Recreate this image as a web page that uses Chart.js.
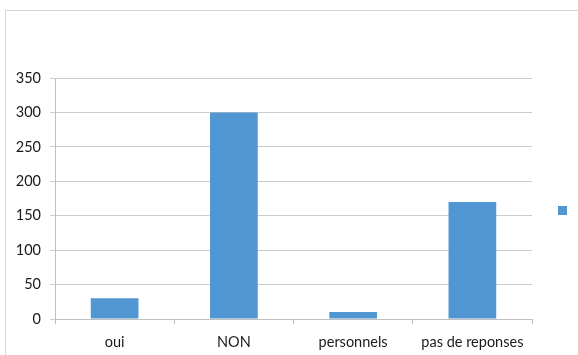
<!DOCTYPE html>
<html>
<head>
<meta charset="utf-8">
<script src="https://cdn.jsdelivr.net/npm/chart.js@4"></script>
<style>
html,body{margin:0;padding:0;background:#fff;}
#wrap{position:relative;width:578px;height:355px;overflow:hidden;}
#frame{position:absolute;left:5px;top:10px;width:620px;height:400px;border:1px solid #d6d6d6;box-sizing:border-box;}
#c{position:absolute;left:0;top:0;}
</style>
</head>
<body>
<div id="wrap">
<div id="frame"></div>
<canvas id="c" width="578" height="355"></canvas>
</div>
<script>
const categories = ["oui", "NON", "personnels", "pas de reponses"];
const values = [30, 300, 10, 170];
const seriesName = "";
const yTicks = [0, 50, 100, 150, 200, 250, 300, 350];

const barColor = "#4F96D2";
const fontFamily = "Lato, 'Open Sans', sans-serif";

new Chart(document.getElementById("c"), {
  type: "bar",
  data: {
    labels: categories,
    datasets: [{
      label: seriesName,
      data: values,
      backgroundColor: barColor,
      borderWidth: 0,
      barPercentage: 0.4,
      categoryPercentage: 1.0
    }]
  },
  options: {
    responsive: false,
    animation: false,
    devicePixelRatio: 1,
    layout: { padding: { top: 78, bottom: 0, left: 0, right: 0 } },
    plugins: {
      tooltip: { enabled: false },
      title: { display: false },
      legend: {
        display: true,
        position: "right",
        align: "center",
        fullSize: false,
        title: { display: true, text: "", font: { size: 2 }, padding: { top: 0, bottom: 21.6 } },
        labels: {
          boxWidth: 9,
          boxHeight: 9,
          padding: 26,
          font: { size: 2, family: fontFamily },
          generateLabels: (chart) => chart.data.datasets.map((ds, i) => ({
            text: ds.label,
            fillStyle: ds.backgroundColor,
            strokeStyle: ds.backgroundColor,
            lineWidth: 0,
            datasetIndex: i
          }))
        }
      }
    },
    scales: {
      x: {
        afterFit: (s) => { s.height = 36; },
        grid: { drawOnChartArea: false, drawTicks: true, tickLength: 5, color: "#bfbfbf" },
        border: { display: true, color: "#bfbfbf" },
        ticks: { color: "#1a1a1a", font: { size: 14.5, family: fontFamily }, padding: 10, maxRotation: 0 }
      },
      y: {
        min: 0,
        max: 350,
        afterFit: (s) => { s.width = 55; },
        afterBuildTicks: (s) => { s.ticks = yTicks.map(v => ({ value: v })); },
        grid: { drawOnChartArea: true, drawTicks: true, tickLength: 5, color: "#cccccc" },
        border: { display: true, color: "#bfbfbf" },
        ticks: { color: "#1a1a1a", font: { size: 14.5, family: fontFamily }, padding: 9 }
      }
    }
  }
});
</script>
</body>
</html>
